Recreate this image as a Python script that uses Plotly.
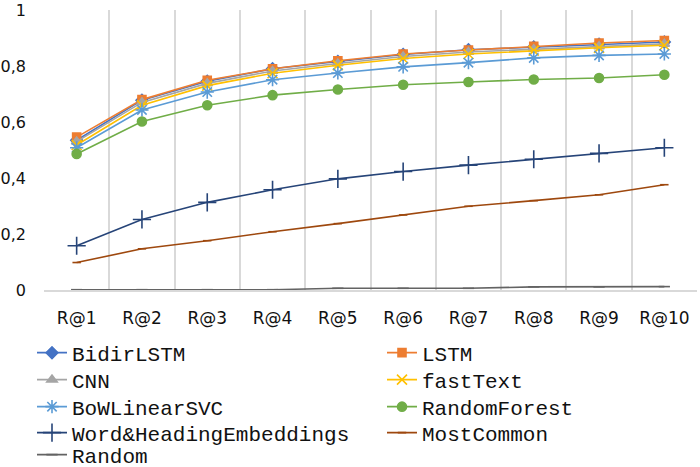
import plotly.graph_objects as go

categories = ["R@1", "R@2", "R@3", "R@4", "R@5", "R@6", "R@7", "R@8", "R@9", "R@10"]

bidir_lstm = [0.535, 0.678, 0.746, 0.790, 0.816, 0.841, 0.858, 0.868, 0.878, 0.886]
lstm = [0.546, 0.680, 0.749, 0.790, 0.819, 0.843, 0.857, 0.870, 0.882, 0.891]
cnn = [0.530, 0.670, 0.738, 0.782, 0.809, 0.834, 0.850, 0.860, 0.870, 0.879]
fasttext = [0.518, 0.660, 0.730, 0.774, 0.803, 0.827, 0.843, 0.855, 0.865, 0.874]
bow_svc = [0.508, 0.643, 0.707, 0.751, 0.775, 0.797, 0.812, 0.829, 0.838, 0.843]
random_forest = [0.486, 0.602, 0.660, 0.696, 0.716, 0.733, 0.743, 0.752, 0.757, 0.769]
word_heading = [0.158, 0.252, 0.313, 0.358, 0.397, 0.423, 0.446, 0.467, 0.488, 0.508]
most_common = [0.098, 0.147, 0.176, 0.208, 0.237, 0.268, 0.299, 0.319, 0.340, 0.376]
random_base = [0.001, 0.001, 0.001, 0.001, 0.006, 0.006, 0.006, 0.011, 0.011, 0.012]

y_tickvals = [0, 0.2, 0.4, 0.6, 0.8, 1]
y_ticktext = ["0", "0,2", "0,4", "0,6", "0,8", "1"]

# name, values, color, marker symbol, marker size
series = [
    ("BidirLSTM", bidir_lstm, "#4472C4", "diamond", 9),
    ("LSTM", lstm, "#ED7D31", "square", 8),
    ("CNN", cnn, "#A5A5A5", "triangle-up", 9),
    ("fastText", fasttext, "#FFC000", "x-thin-open", 10),
    ("BoWLinearSVC", bow_svc, "#5B9BD5", "asterisk-open", 11),
    ("RandomForest", random_forest, "#70AD47", "circle", 9),
    ("Word&HeadingEmbeddings", word_heading, "#264478", "cross-thin-open", 13),
    ("MostCommon", most_common, "#9E480E", "line-ew-open", 6),
    ("Random", random_base, "#636363", "line-ew-open", 8),
]

# legend layout: two columns, row-major, placed below the plot (pixel positions)
legend_col_x = [32, 382]
legend_row_y = [353, 380, 407, 433, 455]

W, H = 700, 467
fig = go.Figure()
legends = {}
for i, (name, vals, color, sym, size) in enumerate(series):
    key = "legend" if i == 0 else f"legend{i + 1}"
    fig.add_trace(go.Scatter(
        x=categories, y=vals, name=name, mode="lines+markers",
        line=dict(color=color, width=1.6),
        marker=dict(symbol=sym, size=size, color=color,
                    line=dict(color=color, width=1.6)),
        cliponaxis=False, legend=key,
    ))
    col, row = i % 2, i // 2
    legends[key] = dict(
        orientation="v", xref="container", xanchor="left",
        x=legend_col_x[col] / W,
        yref="container", yanchor="middle",
        y=1 - legend_row_y[row] / H,
        font=dict(family="Liberation Mono", size=21, color="#111"),
        itemwidth=30, bgcolor="rgba(0,0,0,0)",
    )

fig.update_layout(
    width=W, height=H,
    margin=dict(l=44, r=3, t=10, b=177, autoexpand=False),
    plot_bgcolor="white", paper_bgcolor="white",
    showlegend=True,
    xaxis=dict(
        type="category", tickson="boundaries", showgrid=True,
        gridcolor="#D9D9D9", gridwidth=1.5, ticks="",
        showline=True, linecolor="#D9D9D9", linewidth=1.5,
        tickfont=dict(family="DejaVu Sans", size=17, color="#111"),
        ticklabelstandoff=12, ticklabeloverflow="allow",
        range=[-0.5, 9.5],
    ),
    yaxis=dict(
        range=[-0.0001, 1.0001], showgrid=False, zeroline=False,
        showline=False, ticks="",
        tickvals=y_tickvals, ticktext=y_ticktext,
        tickfont=dict(family="DejaVu Sans", size=16, color="#111"),
        ticklabelstandoff=17, ticklabeloverflow="allow",
    ),
    **legends,
)

fig.write_html("out.html", config={"displayModeBar": False},
               post_script="document.body.style.margin='0px';")
